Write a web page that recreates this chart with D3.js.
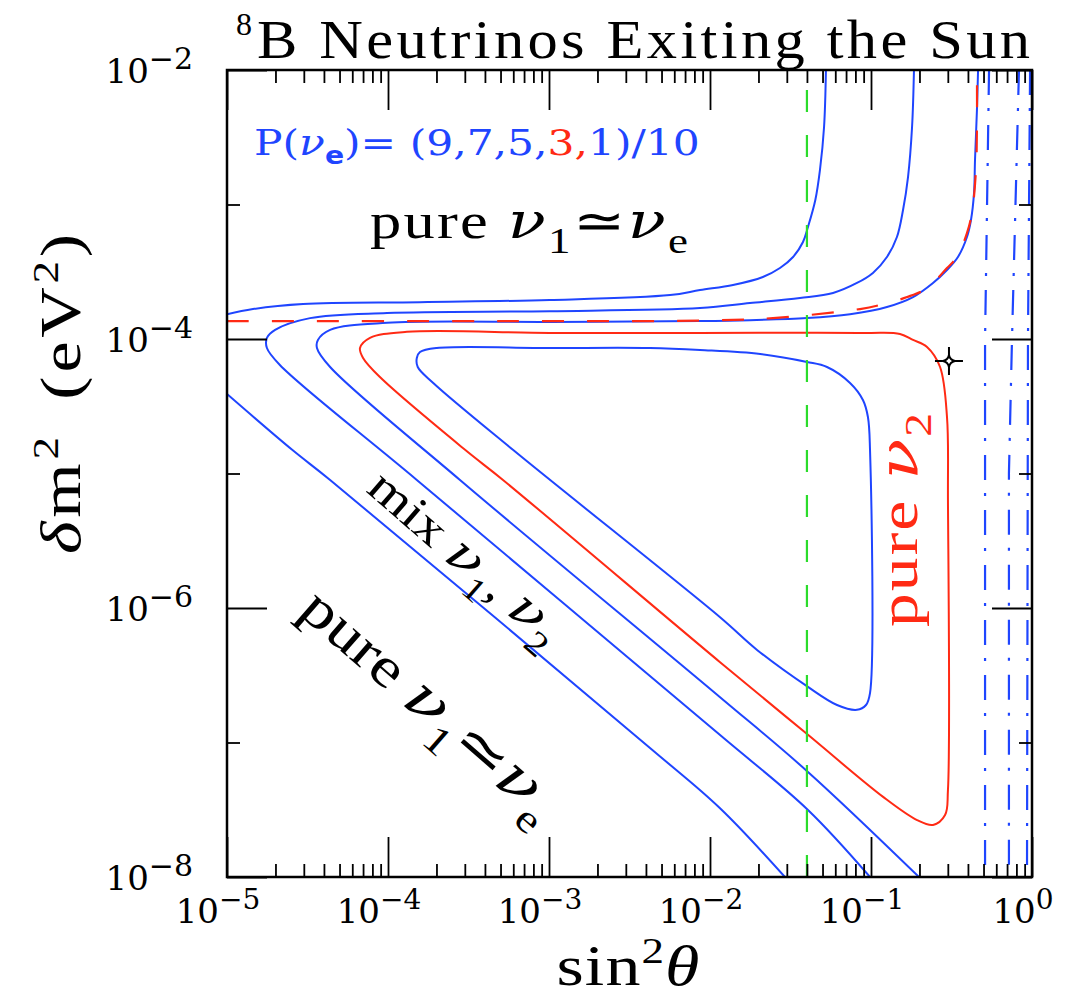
<!DOCTYPE html>
<html>
<head>
<meta charset="utf-8">
<script src="https://cdn.jsdelivr.net/npm/d3@7"></script>
<style>
  html, body { margin: 0; padding: 0; background: #fff; }
  svg { display: block; }
</style>
</head>
<body>
<svg id="chart" width="1080" height="997"></svg>
<script>

//
// DATA: [sin^2(theta), dm^2 (eV^2)]
//

// P(nu_e) = 0.9, upper branch and lower diagonal
const p90Upper = [
    [1.00e-5, 1.53e-4], [1.45e-5, 1.67e-4], [2.97e-5, 1.82e-4], [1.58e-4, 1.88e-4],
    [1.01e-3, 1.95e-4], [5.65e-3, 2.12e-4], [8.67e-3, 2.31e-4], [1.39e-2, 2.52e-4],
    [2.13e-2, 2.89e-4], [2.72e-2, 3.37e-4], [3.28e-2, 4.07e-4], [3.78e-2, 5.26e-4],
    [4.06e-2, 6.81e-4], [4.51e-2, 1.08e-3], [4.82e-2, 1.81e-3], [5.11e-2, 3.77e-3],
    [5.25e-2, 1.00e-2]
];
const p90Lower = [
    [1.00e-5, 3.90e-5], [2.54e-5, 1.50e-5], [4.37e-5, 8.95e-6], [4.24e-3, 9.10e-8],
    [1.15e-2, 3.26e-8], [2.92e-2, 1.00e-8]
];

// P(nu_e) = 0.7
const p70 = [
    [0.1849, 1.00e-2], [0.1799, 3.77e-3], [0.1698, 1.60e-3], [0.1581, 9.10e-4],
    [0.1449, 5.73e-4], [0.1256, 4.07e-4], [0.1028, 3.10e-4], [8.18e-2, 2.61e-4],
    [5.81e-2, 2.20e-4], [3.62e-2, 2.02e-4], [1.77e-2, 1.85e-4], [8.67e-3, 1.70e-4],
    [1.01e-3, 1.61e-4], [9.86e-5, 1.56e-4], [3.28e-5, 1.43e-4], [1.99e-5, 1.17e-4],
    [1.77e-5, 1.02e-4], [1.77e-5, 8.57e-5], [2.13e-5, 6.41e-5], [1.51e-4, 8.95e-6],
    [1.15e-2, 1.14e-7], [4.06e-2, 3.15e-8], [9.86e-2, 1.00e-8]
];

// P(nu_e) = 0.5
const p50 = [
    [0.4624, 1.00e-2], [0.4550, 5.05e-3], [0.4426, 2.14e-3], [0.4365, 1.22e-3],
    [0.4178, 7.67e-4], [0.3945, 5.73e-4], [0.3467, 4.07e-4], [0.2965, 3.26e-4],
    [0.2427, 2.61e-4], [0.1824, 2.05e-4], [0.1256, 1.73e-4], [7.41e-2, 1.53e-4],
    [4.00e-2, 1.43e-4], [1.77e-2, 1.38e-4], [8.67e-3, 1.36e-4], [1.01e-3, 1.34e-4],
    [9.86e-5, 1.32e-4], [4.37e-5, 1.17e-4], [3.67e-5, 9.84e-5], [3.62e-5, 8.57e-5],
    [4.37e-5, 6.19e-5], [2.80e-4, 8.95e-6], [1.15e-2, 2.18e-7], [4.06e-2, 6.04e-8],
    [0.1986, 1.00e-8]
];

// P(nu_e) = 0.3 (red, closed)
const p30 = [
    [6.70e-5, 8.57e-5], [7.73e-5, 1.02e-4], [1.31e-4, 1.13e-4], [1.01e-3, 1.11e-4],
    [8.67e-3, 1.11e-4], [9.44e-2, 1.11e-4], [0.1514, 1.09e-4], [0.1824, 9.84e-5],
    [0.2228, 8.73e-5], [0.2685, 6.19e-5], [0.2965, 2.63e-5], [0.3006, 6.35e-6],
    [0.3006, 4.44e-8], [0.2884, 2.89e-8], [0.2427, 2.44e-8], [0.1932, 2.65e-8],
    [0.1189, 3.94e-8], [4.06e-2, 1.14e-7], [1.15e-2, 3.97e-7], [5.18e-4, 8.95e-6],
    [3.01e-4, 1.50e-5], [8.91e-5, 5.21e-5], [7.00e-5, 7.23e-5]
];

// P(nu_e) = 0.1 (closed)
const p10 = [
    [1.58e-4, 8.00e-5], [2.01e-4, 8.57e-5], [1.01e-3, 8.57e-5], [4.24e-3, 8.57e-5],
    [8.67e-3, 8.28e-5], [2.05e-2, 7.73e-5], [4.00e-2, 6.75e-5], [5.33e-2, 6.19e-5],
    [7.41e-2, 4.71e-5], [8.91e-2, 3.52e-5], [9.57e-2, 2.63e-5], [9.86e-2, 1.50e-5],
    [9.86e-2, 2.33e-7], [9.31e-2, 1.90e-7], [8.18e-2, 1.75e-7], [6.15e-2, 1.90e-7],
    [4.06e-2, 2.59e-7], [1.96e-2, 4.88e-7], [1.15e-2, 8.57e-7], [5.97e-4, 1.50e-5],
    [1.91e-4, 4.71e-5], [1.53e-4, 6.19e-5], [1.51e-4, 7.23e-5]
];

// red dashed curve
const redDashed = [
    [1.00e-5, 1.36e-4], [4.97e-4, 1.36e-4], [8.67e-3, 1.37e-4], [2.46e-2, 1.43e-4],
    [8.55e-2, 1.67e-4], [0.1138, 1.79e-4], [0.1675, 2.05e-4], [0.2228, 2.39e-4],
    [0.2965, 3.37e-4], [0.342, 4.07e-4], [0.3945, 6.14e-4], [0.4236, 8.65e-4],
    [0.4487, 1.81e-3], [0.4550, 3.77e-3], [0.4550, 1.00e-2]
];

// blue dash-dot lines beyond sin^2 = 0.5
const darkSide = [
    [[0.541, 1.00e-2], [0.511, 9.84e-5], [0.511, 1.00e-8]],
    [[0.830, 1.00e-2], [0.751, 9.84e-5], [0.719, 1.00e-5], [0.719, 1.00e-8]],
    [[0.973, 1.00e-2], [0.944, 9.84e-5], [0.931, 1.00e-8]]
];

// green dashed vertical line
const greenLine = [[0.04, 1.00e-8], [0.04, 1.00e-2]];

// best fit marker
const bestFit = [0.305, 6.86e-5];

// axes
const xDomain = [1e-5, 1];
const yDomain = [1e-8, 1e-2];
const xLabelExps = [-5, -4, -3, -2, -1, 0];
const yLabelExps = [-8, -6, -4, -2];
const yShortExps = [-7, -5, -3];

//
// SETUP
//

const BLUE = "#1f45ff";
const RED = "#ff2a14";
const GREEN = "#2bdc2b";
const SERIF = "Liberation Serif";
const frame = { left: 227, top: 70, right: 1032, bottom: 877 };

const svg = d3.select("#chart");

const x = d3.scaleLog().domain(xDomain).range([frame.left, frame.right]);
const y = d3.scaleLog().domain(yDomain).range([frame.bottom, frame.top]);

svg.append("defs").append("clipPath")
    .attr("id", "plotClip")
    .append("rect")
        .attr("x", frame.left)
        .attr("y", frame.top)
        .attr("width", frame.right - frame.left)
        .attr("height", frame.bottom - frame.top);

const openLine = d3.line()
    .x(d => x(d[0]))
    .y(d => y(d[1]))
    .curve(d3.curveCatmullRom.alpha(0.5));

const closedLine = d3.line()
    .x(d => x(d[0]))
    .y(d => y(d[1]))
    .curve(d3.curveCatmullRomClosed.alpha(0.5));

const straight = d3.line()
    .x(d => x(d[0]))
    .y(d => y(d[1]));

//
// CURVES
//

const plot = svg.append("g").attr("clip-path", "url(#plotClip)");

const curves = [
    { pts: p90Upper, gen: openLine, color: BLUE },
    { pts: p90Lower, gen: openLine, color: BLUE },
    { pts: p70, gen: openLine, color: BLUE },
    { pts: p50, gen: openLine, color: BLUE },
    { pts: p10, gen: closedLine, color: BLUE },
    { pts: p30, gen: closedLine, color: RED }
];

plot.selectAll("path.contour")
    .data(curves)
    .enter().append("path")
        .attr("class", "contour")
        .attr("d", d => d.gen(d.pts))
        .attr("fill", "none")
        .attr("stroke", d => d.color)
        .attr("stroke-width", 2);

plot.append("path")
    .datum(redDashed)
        .attr("d", openLine)
        .attr("fill", "none")
        .attr("stroke", RED)
        .attr("stroke-width", 2.2)
        .attr("stroke-dasharray", "22,23");

plot.append("path")
    .datum(greenLine)
        .attr("d", straight)
        .attr("fill", "none")
        .attr("stroke", GREEN)
        .attr("stroke-width", 2.2)
        .attr("stroke-dasharray", "22,23");

plot.selectAll("path.dark")
    .data(darkSide)
    .enter().append("path")
        .attr("class", "dark")
        .attr("d", straight)
        .attr("fill", "none")
        .attr("stroke", BLUE)
        .attr("stroke-width", 2.2)
        .attr("stroke-dasharray", "25,13,3,14");

// best fit star
const star = svg.append("g")
    .attr("transform", `translate(${x(bestFit[0])}, ${y(bestFit[1])})`);
star.append("path")
    .attr("d", "M-14,0L-6,0M6,0L14,0M0,-14L0,-6M0,6L0,14")
    .attr("stroke", "#000")
    .attr("stroke-width", 2);
star.append("path")
    .attr("d", "M-6,0Q-1,-1 0,-6Q1,-1 6,0Q1,1 0,6Q-1,1 -6,0Z")
    .attr("fill", "#fff")
    .attr("stroke", "#000")
    .attr("stroke-width", 2);

//
// FRAME + TICKS
//

svg.append("rect")
    .attr("x", frame.left)
    .attr("y", frame.top)
    .attr("width", frame.right - frame.left)
    .attr("height", frame.bottom - frame.top)
    .attr("fill", "none")
    .attr("stroke", "#000")
    .attr("stroke-width", 2.5);

const xMajor = xLabelExps.map(e => Math.pow(10, e));
const xMinor = x.ticks().filter(v => Math.abs(Math.log10(v) - Math.round(Math.log10(v))) > 1e-6);
const yLong = yLabelExps.map(e => Math.pow(10, e));
const yShort = yShortExps.map(e => Math.pow(10, e));

const drawTicks = (axis, transform, values, size) => {
    svg.append("g")
        .attr("transform", transform)
        .call(axis.tickValues(values).tickSize(size).tickFormat(""))
        .call(g => g.select(".domain").remove())
        .call(g => g.selectAll("line").attr("stroke", "#000").attr("stroke-width", 1.8));
};

drawTicks(d3.axisBottom(x), `translate(0, ${frame.bottom})`, xMajor, -40);
drawTicks(d3.axisBottom(x), `translate(0, ${frame.bottom})`, xMinor, -13);
drawTicks(d3.axisTop(x), `translate(0, ${frame.top})`, xMajor, -40);
drawTicks(d3.axisTop(x), `translate(0, ${frame.top})`, xMinor, -13);
drawTicks(d3.axisLeft(y), `translate(${frame.left}, 0)`, yLong, -40);
drawTicks(d3.axisLeft(y), `translate(${frame.left}, 0)`, yShort, -13);
drawTicks(d3.axisRight(y), `translate(${frame.right}, 0)`, yLong, -40);
drawTicks(d3.axisRight(y), `translate(${frame.right}, 0)`, yShort, -13);

// tick labels 10^n
const expText = (sel, e, supSize) => {
    sel.append("tspan").text("10");
    sel.append("tspan")
        .attr("dy", -14)
        .attr("font-size", supSize)
        .text(e < 0 ? "\u2212" + (-e) : e);
};

svg.append("g")
    .selectAll("text")
    .data(xLabelExps)
    .enter().append("text")
        .attr("x", d => x(Math.pow(10, d)) - 9)
        .attr("y", frame.bottom + 46)
        .attr("text-anchor", "middle")
        .attr("font-family", "DejaVu Serif")
        .attr("font-size", 34)
        .each(function (d) { expText(d3.select(this), d, 28); });

svg.append("g")
    .selectAll("text")
    .data(yLabelExps)
    .enter().append("text")
        .attr("x", 193)
        .attr("y", d => y(Math.pow(10, d)) + 13)
        .attr("text-anchor", "end")
        .attr("font-family", "DejaVu Serif")
        .attr("font-size", 34)
        .each(function (d) { expText(d3.select(this), d, 30); });

//
// TEXT HELPERS
//

// widen glyphs up to maxScale, then spread the rest so the text spans `target` px
const fitText = (sel, base, target, maxScale) => {
    const natural = sel.node().getComputedTextLength();
    let s = target / natural;
    if (s > maxScale) {
        s = maxScale;
        sel.attr("textLength", target / s).attr("lengthAdjust", "spacing");
    }
    sel.attr("transform", `${base} scale(${s}, 1)`);
};

// parts: {t: text} | {it: text} | {nu: 1} | {sub: text} | {sup: text}
const richText = (sel, parts, shift, smallSize) => {
    let pending = 0;
    parts.forEach(p => {
        const t = sel.append("tspan");
        if (p.sub || p.sup) {
            const d = p.sub ? shift : -shift;
            t.attr("dy", d + pending).attr("font-size", smallSize).text(p.sub || p.sup);
            pending = -d;
            return;
        }
        if (pending) t.attr("dy", pending);
        pending = 0;
        if (p.nu) {
            t.attr("font-family", "DejaVu Serif").attr("font-style", "italic").text("\u03bd");
        } else if (p.it) {
            t.attr("font-style", "italic").text(p.it);
        } else {
            t.text(p.t);
        }
        if (p.dx) t.attr("dx", p.dx);
    });
};

//
// TITLES
//

svg.append("text")
    .attr("x", 236)
    .attr("y", 35)
    .attr("font-family", SERIF)
    .attr("font-size", 32)
    .text("8");

const title = svg.append("text")
    .attr("font-family", SERIF)
    .attr("font-size", 54)
    .text("B Neutrinos Exiting the Sun");
fitText(title, "translate(257, 58)", 773, 1.12);

const xTitle = svg.append("text")
    .attr("text-anchor", "middle")
    .attr("font-family", SERIF)
    .attr("font-size", 56);
richText(xTitle, [{ t: "sin" }, { sup: "2" }, { it: "\u03b8" }], 22, 36);
fitText(xTitle, "translate(628, 985)", 143, 1.25);

const yTitle = svg.append("text")
    .attr("text-anchor", "middle")
    .attr("font-family", SERIF)
    .attr("font-size", 56);
richText(yTitle, [{ it: "\u03b4" }, { t: "m" }, { sup: "2" }, { t: " (eV", dx: 10 }, { sup: "2" }, { t: ")" }], 22, 36);
fitText(yTitle, "translate(80, 394) rotate(-90)", 320, 1.25);

//
// ANNOTATIONS
//

const legend = svg.append("text")
    .attr("font-family", "DejaVu Serif")
    .attr("font-size", 36)
    .attr("fill", BLUE);
legend.append("tspan").text("P(");
legend.append("tspan").attr("font-style", "italic").text("\u03bd");
legend.append("tspan").attr("dy", 9).attr("font-size", 24).attr("font-weight", "bold")
    .attr("font-family", "DejaVu Sans").text("e");
legend.append("tspan").attr("dy", -9).text(")= (9,7,5,");
legend.append("tspan").attr("fill", RED).text("3,");
legend.append("tspan").text("1)/10");
fitText(legend, "translate(254, 155)", 446, 1.25);

const upperPure = svg.append("text")
    .attr("font-family", SERIF)
    .attr("font-size", 50)
    .attr("fill", "#000");
richText(upperPure, [{ t: "pure " }, { nu: 1 }, { sub: "1" }, { t: "\u2243" }, { nu: 1 }, { sub: "e" }], 15, 36);
fitText(upperPure, "translate(370, 238)", 318, 1.25);

const pureNu2 = svg.append("text")
    .attr("font-family", SERIF)
    .attr("font-size", 54)
    .attr("fill", RED);
richText(pureNu2, [{ t: "pure " }, { nu: 1 }, { sub: "2" }], 14, 38);
fitText(pureNu2, "translate(917, 627) rotate(-90)", 214, 1.25);

const mixLabel = svg.append("text")
    .attr("font-family", SERIF)
    .attr("font-size", 48)
    .attr("fill", "#000");
richText(mixLabel, [{ t: "mix " }, { nu: 1 }, { sub: "1" }, { t: ", " }, { nu: 1 }, { sub: "2" }], 14, 34);
fitText(mixLabel, "translate(365, 491) rotate(41)", 240, 1.25);

const lowerPure = svg.append("text")
    .attr("font-family", SERIF)
    .attr("font-size", 56)
    .attr("fill", "#000");
richText(lowerPure, [{ t: "pure " }, { nu: 1 }, { sub: "1" }, { t: "\u2243" }, { nu: 1 }, { sub: "e" }], 17, 40);
fitText(lowerPure, "translate(297, 613) rotate(41)", 321, 1.25);

</script>
</body>
</html>
